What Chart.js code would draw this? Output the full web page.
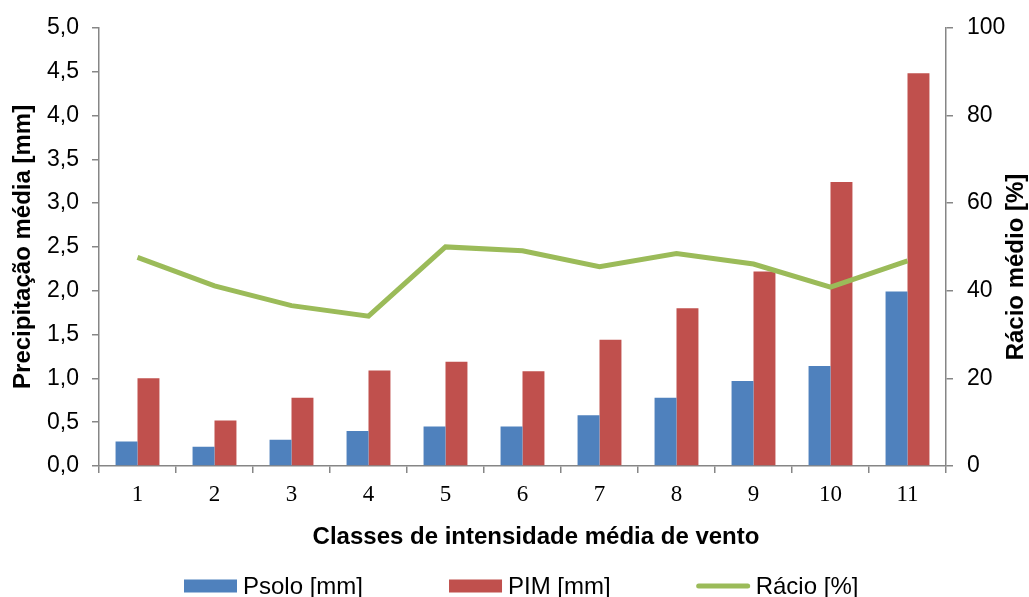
<!DOCTYPE html>
<html>
<head>
<meta charset="utf-8">
<script src="https://cdn.jsdelivr.net/npm/chart.js@4/dist/chart.umd.min.js"></script>
<style>
  html, body { margin: 0; padding: 0; background: #fff; }
  #wrap { width: 1029px; height: 597px; position: relative; }
</style>
</head>
<body>
<div id="wrap"><canvas id="comboChart"></canvas></div>
<script>
// Precipitação média por classe de vento (barras) + rácio (linha, eixo direito)

const categories = ['1', '2', '3', '4', '5', '6', '7', '8', '9', '10', '11'];
const psolo = [0.28, 0.22, 0.30, 0.40, 0.45, 0.45, 0.58, 0.78, 0.97, 1.14, 1.99];
const pim = [1.00, 0.52, 0.78, 1.09, 1.19, 1.08, 1.44, 1.80, 2.22, 3.24, 4.48];
const racio = [47.6, 41.1, 36.6, 34.2, 50.0, 49.1, 45.5, 48.5, 46.1, 40.8, 46.8];

const leftTicks = ['0,0', '0,5', '1,0', '1,5', '2,0', '2,5', '3,0', '3,5', '4,0', '4,5', '5,0'];
const rightTicks = ['0', '20', '40', '60', '80', '100'];

const xTitle = 'Classes de intensidade média de vento';
const leftTitle = 'Precipitação média [mm]';
const rightTitle = 'Rácio médio [%]';

const axisGray = '#868686';
const sans = '"Liberation Sans", Arial, sans-serif';

// axis titles (y ones read bottom-to-top on both sides) and the legend row, drawn by hand
const titlesAndLegend = {
    id: 'titlesAndLegend',
    afterDraw(chart) {
        const ctx = chart.ctx;
        const area = chart.chartArea;
        ctx.save();
        ctx.fillStyle = '#000';
        ctx.font = 'bold 24px ' + sans;
        ctx.textAlign = 'center';
        ctx.textBaseline = 'middle';

        ctx.fillText(xTitle, 536, 537);

        ctx.save();
        ctx.translate(23, (area.top + area.bottom) / 2);
        ctx.rotate(-Math.PI / 2);
        ctx.fillText(leftTitle, 0, 0);
        ctx.restore();

        ctx.save();
        ctx.translate(1016, 267);
        ctx.rotate(-Math.PI / 2);
        ctx.fillText(rightTitle, 0, 0);
        ctx.restore();

        // legend
        ctx.font = '24px ' + sans;
        ctx.textAlign = 'left';
        let x = 184;
        const y = 586;
        chart.data.datasets.slice().sort((a, b) => a.legendIndex - b.legendIndex).forEach(ds => {
            if (ds.type === 'line') {
                ctx.strokeStyle = ds.borderColor;
                ctx.lineWidth = 5;
                ctx.lineCap = 'round';
                ctx.beginPath();
                ctx.moveTo(x + 2, y);
                ctx.lineTo(x + 51, y);
                ctx.stroke();
            } else {
                ctx.fillStyle = ds.backgroundColor;
                ctx.fillRect(x, y - 6.5, 53, 13);
            }
            ctx.fillStyle = '#000';
            ctx.fillText(ds.label, x + 59, y + 1);
            x += 59 + ctx.measureText(ds.label).width + 86;
        });
        ctx.restore();
    }
};

new Chart(document.getElementById('comboChart'), {
    type: 'bar',
    data: {
        labels: categories,
        datasets: [{
            label: 'Psolo [mm]',
            legendIndex: 0,
            data: psolo,
            backgroundColor: '#4F81BD',
            yAxisID: 'y',
            order: 1
        }, {
            label: 'PIM [mm]',
            legendIndex: 1,
            data: pim,
            backgroundColor: '#C0504D',
            yAxisID: 'y',
            order: 1
        }, {
            type: 'line',
            label: 'Rácio [%]',
            legendIndex: 2,
            data: racio,
            borderColor: '#9BBB59',
            backgroundColor: '#9BBB59',
            borderWidth: 5,
            pointRadius: 0,
            tension: 0,
            yAxisID: 'y1',
            order: 0
        }]
    },
    options: {
        responsive: true,
        maintainAspectRatio: false,
        animation: false,
        categoryPercentage: 0.57,
        barPercentage: 1.0,
        layout: { padding: { top: 26, left: 0, right: 0, bottom: 0 } },
        plugins: {
            legend: { display: false },
            tooltip: { enabled: false }
        },
        scales: {
            x: {
                grid: { offset: true, drawOnChartArea: false, drawTicks: true, tickLength: 7, color: axisGray, lineWidth: 1.5 },
                border: { color: axisGray, width: 1.5 },
                ticks: { color: '#000', padding: 8, font: { family: '"Liberation Serif", "Times New Roman", serif', size: 23 } },
                afterFit(scale) { scale.height = 131; }
            },
            y: {
                position: 'left',
                min: 0,
                max: 5,
                grid: { drawOnChartArea: false, drawTicks: true, tickLength: 7, color: axisGray, lineWidth: 1.5 },
                border: { color: axisGray, width: 1.5 },
                ticks: {
                    stepSize: 0.5,
                    color: '#000',
                    padding: 13,
                    font: { family: sans, size: 23 },
                    callback: (v, i) => leftTicks[i]
                },
                afterFit(scale) { scale.width = 99; }
            },
            y1: {
                position: 'right',
                min: 0,
                max: 100,
                grid: { drawOnChartArea: false, drawTicks: true, tickLength: 7, color: axisGray, lineWidth: 1.5 },
                border: { color: axisGray, width: 1.5 },
                ticks: {
                    stepSize: 20,
                    color: '#000',
                    padding: 14,
                    font: { family: sans, size: 23 },
                    callback: (v, i) => rightTicks[i]
                },
                afterFit(scale) { scale.width = 83; }
            }
        }
    },
    plugins: [titlesAndLegend]
});
</script>
</body>
</html>
